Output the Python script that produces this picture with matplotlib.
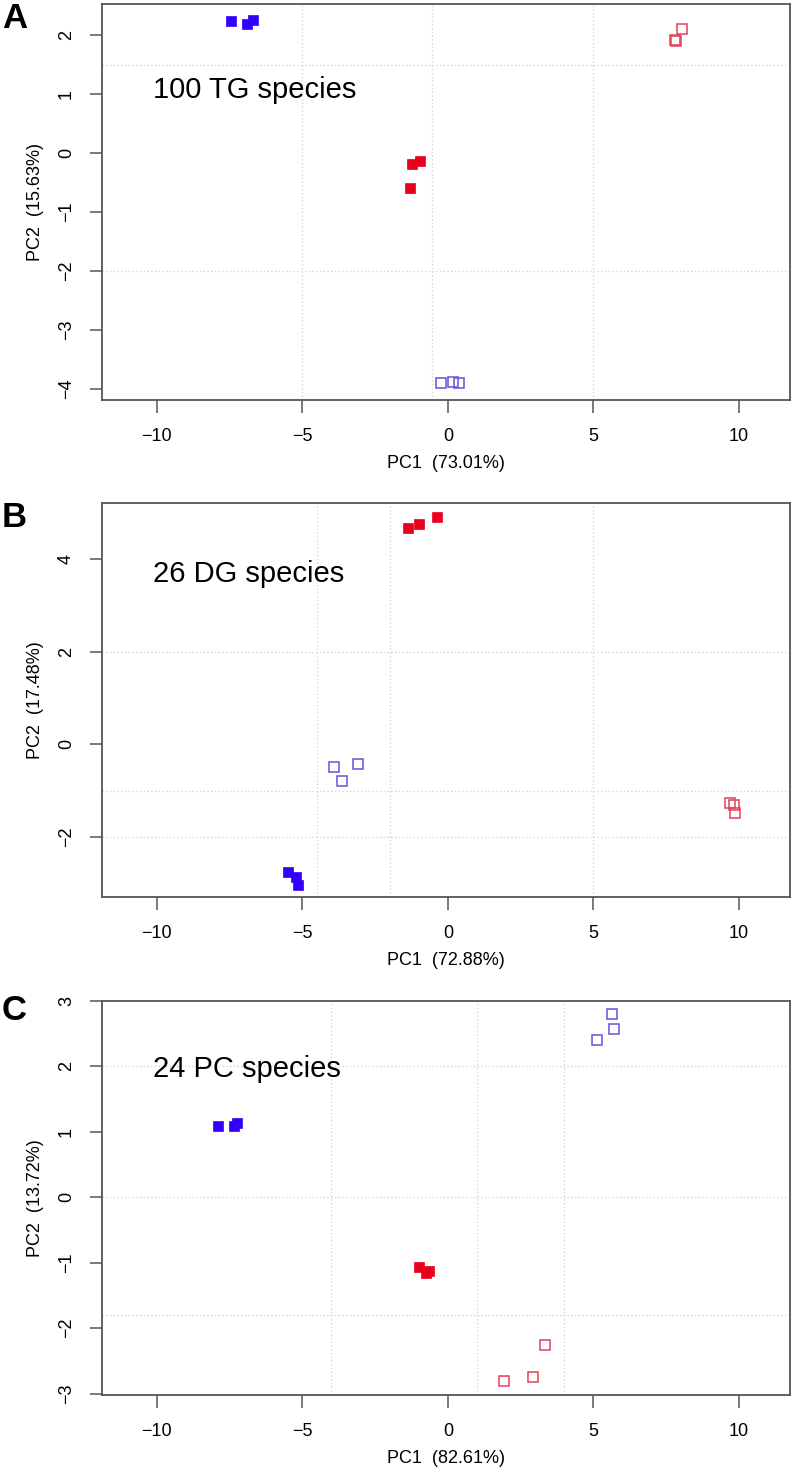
import matplotlib
matplotlib.use('Agg')
import matplotlib.pyplot as plt

plt.rcParams['font.family'] = ['Liberation Sans', 'DejaVu Sans']

# ---- data ----
# panel A: 100 TG species
a_fill_blue_x = [-7.45, -6.90, -6.69]
a_fill_blue_y = [2.24, 2.19, 2.26]
a_fill_red_x = [-1.23, -0.96, -1.30]
a_fill_red_y = [-0.18, -0.13, -0.59]
a_open_red_x = [7.80, 8.05, 7.82]
a_open_red_y = [1.92, 2.10, 1.90]
a_open_blue_x = [-0.25, 0.18, 0.39]
a_open_blue_y = [-3.91, -3.89, -3.91]

# panel B: 26 DG species
b_fill_blue_x = [-5.49, -5.23, -5.15]
b_fill_blue_y = [-2.76, -2.87, -3.04]
b_fill_red_x = [-1.36, -1.01, -0.38]
b_fill_red_y = [4.67, 4.76, 4.92]
b_open_red_x = [9.68, 9.82, 9.85]
b_open_red_y = [-1.26, -1.30, -1.48]
b_open_blue_x = [-3.93, -3.09, -3.65]
b_open_blue_y = [-0.48, -0.43, -0.80]

# panel C: 24 PC species
c_fill_blue_x = [-7.91, -7.35, -7.25]
c_fill_blue_y = [1.09, 1.09, 1.14]
c_fill_red_x = [-0.98, -0.77, -0.66]
c_fill_red_y = [-1.07, -1.16, -1.13]
c_open_red_x = [1.93, 2.93, 3.34]
c_open_red_y = [-2.80, -2.74, -2.26]
c_open_blue_x = [5.63, 5.69, 5.12]
c_open_blue_y = [2.80, 2.57, 2.40]

panel_letters = ['A', 'B', 'C']
titles = ['100 TG species', '26 DG species', '24 PC species']
xlabels = ['PC1  (73.01%)', 'PC1  (72.88%)', 'PC1  (82.61%)']
ylabels = ['PC2  (15.63%)', 'PC2  (17.48%)', 'PC2  (13.72%)']
xticks = [-10, -5, 0, 5, 10]
yticks = [[-4, -3, -2, -1, 0, 1, 2], [-2, 0, 2, 4], [-3, -2, -1, 0, 1, 2, 3]]
ylims = [(-4.19, 2.53), (-3.30, 5.22), (-3.02, 3.0)]
title_y = [0.94, 3.52, 1.84]
grid_x = [[-5, -0.55, 5], [-4.5, -2, 5], [-4, 1, 4]]
grid_y = [[1.5, -2], [2, -1, -2], [2, 0, -1.8]]

points = [
    (a_fill_blue_x, a_fill_blue_y, a_fill_red_x, a_fill_red_y,
     a_open_red_x, a_open_red_y, a_open_blue_x, a_open_blue_y),
    (b_fill_blue_x, b_fill_blue_y, b_fill_red_x, b_fill_red_y,
     b_open_red_x, b_open_red_y, b_open_blue_x, b_open_blue_y),
    (c_fill_blue_x, c_fill_blue_y, c_fill_red_x, c_fill_red_y,
     c_open_red_x, c_open_red_y, c_open_blue_x, c_open_blue_y),
]

BLUE = '#3300FF'
RED = '#E8001E'
OPEN_BLUE = '#6A50DD'
OPEN_RED = '#E4405A'
SPINE = '#555555'

fig = plt.figure(figsize=(7.94, 14.77), dpi=100)
# axes boxes in pixel rows (top, bottom)
boxes = [(4, 400), (503, 897), (1001, 1395)]
H = 1477.0
W = 794.0
left, right = 101.5, 790.0
letter_base = [28, 527, 1020]

for i in range(3):
    top, bot = boxes[i]
    ax = fig.add_axes([left / W, 1 - bot / H, (right - left) / W, (bot - top) / H])
    fbx, fby, frx, fry, orx, ory, obx, oby = points[i]

    for gx in grid_x[i]:
        ax.axvline(gx, color='#cfcfcf', lw=0.9, ls=(0, (1, 2)), zorder=0)
    for gy in grid_y[i]:
        ax.axhline(gy, color='#cfcfcf', lw=0.9, ls=(0, (1, 2)), zorder=0)

    ax.plot(fbx, fby, 's', ms=7.2, color=BLUE, mec=BLUE, mew=0.5, ls='none')
    ax.plot(frx, fry, 's', ms=7.2, color=RED, mec=RED, mew=0.5, ls='none')
    ax.plot(orx, ory, 's', ms=7.2, mfc='none', mec=OPEN_RED, mew=1.1, ls='none')
    ax.plot(obx, oby, 's', ms=7.2, mfc='none', mec=OPEN_BLUE, mew=1.1, ls='none')

    ax.set_xlim(-11.9, 11.75)
    ax.set_ylim(*ylims[i])
    ax.set_xticks(xticks)
    ax.set_yticks(yticks[i])
    ax.tick_params(axis='both', length=9, width=1.1, color=SPINE, labelsize=13)
    ax.tick_params(axis='x', pad=11)
    ax.tick_params(axis='y', pad=10)
    for lab in ax.get_yticklabels():
        lab.set_rotation(90)
        lab.set_va('center')
    for sp in ax.spines.values():
        sp.set_color(SPINE)
        sp.set_linewidth(1.3)

    ax.set_xlabel(xlabels[i], fontsize=13)
    ax.set_ylabel(ylabels[i], fontsize=13)
    ax.xaxis.set_label_coords(0.5, -0.14)
    ax.yaxis.set_label_coords(-0.083, 0.5)

    ax.text(-10.13, title_y[i], titles[i], fontsize=21, ha='left', va='baseline')

    fig.text(2 / W, 1 - letter_base[i] / H, panel_letters[i], fontsize=25,
             fontweight='bold', ha='left', va='baseline')

fig.savefig('out.png', dpi=100)
